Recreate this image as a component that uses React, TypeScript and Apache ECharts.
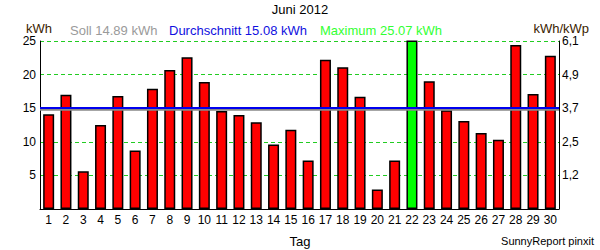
import React, { useEffect, useRef } from "react";
import * as echarts from "echarts";

const days = ["1","2","3","4","5","6","7","8","9","10","11","12","13","14","15","16","17","18","19","20","21","22","23","24","25","26","27","28","29","30"];
const energy = [14.1, 17.0, 5.6, 12.5, 16.8, 8.7, 17.9, 20.7, 22.6, 18.9, 14.6, 14.0, 12.9, 9.6, 11.8, 7.2, 22.2, 21.1, 16.7, 2.9, 7.2, 25.07, 19.0, 14.7, 13.1, 11.3, 10.3, 24.4, 17.1, 22.8];
const maxDayIndex = 21;
const sollValue = 14.89;
const avgValue = 15.08;
const leftTicks = ["", "5", "10", "15", "20", "25"];
const rightTicks = ["", "1,2", "2,5", "3,7", "4,9", "6,1"];
const headerTexts = {
  title: "Juni 2012",
  leftUnit: "kWh",
  soll: "Soll 14.89 kWh",
  avg: "Durchschnitt 15.08 kWh",
  max: "Maximum 25.07 kWh",
  rightUnit: "kWh/kWp",
  xName: "Tag",
  credit: "SunnyReport pinxit",
};

const FONT = "'Liberation Sans', Arial, sans-serif";

export default function App() {
  const ref = useRef<HTMLDivElement>(null);
  useEffect(() => {
    document.body.style.margin = "0";
    const chart = echarts.init(ref.current!, null, { renderer: "svg" });
    const txt = (text: string, x: number, y: number, color: string, size: number, align = "left") => ({
      type: "text",
      x,
      y,
      style: { text, fill: color, font: `${size}px ${FONT}`, textAlign: align, textVerticalAlign: "middle" },
      silent: true,
    });
    chart.setOption({
      animation: false,
      backgroundColor: "#ffffff",
      textStyle: { fontFamily: FONT },
      grid: { left: 40, right: 41, top: 41, bottom: 41, containLabel: false },
      xAxis: {
        type: "category",
        data: days,
        axisLine: { show: true, lineStyle: { color: "#000", width: 1 } },
        axisTick: { show: false },
        axisLabel: { color: "#000", fontSize: 12, fontFamily: FONT, margin: 5, interval: 0 },
      },
      yAxis: [
        {
          type: "value",
          min: 0,
          max: 25,
          interval: 5,
          axisLine: { show: true, lineStyle: { color: "#000", width: 1 } },
          axisTick: { show: false },
          axisLabel: {
            color: "#000",
            fontSize: 12,
            fontFamily: FONT,
            margin: 4,
            padding: [4, 0, 0, 0],
            formatter: (v: number) => leftTicks[Math.round(v / 5)] ?? "",
          },
          splitLine: { show: true, lineStyle: { color: "#22cc22", type: [4, 3], width: 1 } },
        },
        {
          type: "value",
          min: 0,
          max: 25,
          interval: 5,
          position: "right",
          axisLine: { show: true, lineStyle: { color: "#000", width: 1 } },
          axisTick: { show: false },
          axisLabel: {
            color: "#000",
            fontSize: 12,
            fontFamily: FONT,
            margin: 3,
            padding: [4, 0, 0, 0],
            formatter: (v: number) => rightTicks[Math.round(v / 5)] ?? "",
          },
          splitLine: { show: false },
        },
      ],
      series: [
        {
          type: "bar",
          data: energy.map((v, i) => ({
            value: v,
            itemStyle: { color: i === maxDayIndex ? "#00ff00" : "#ff0000" },
          })),
          barWidth: 11,
          itemStyle: { borderColor: "#000", borderWidth: 1.5 },
          markLine: {
            silent: true,
            symbol: "none",
            label: { show: false },
            data: [
              { yAxis: sollValue, lineStyle: { color: "#888888", width: 2.5, type: "solid" } },
              { yAxis: avgValue, lineStyle: { color: "#0000ee", width: 2, type: "solid" } },
            ],
          },
        },
      ],
      graphic: [
        txt(headerTexts.title, 300, 9, "#000", 13, "center"),
        txt(headerTexts.leftUnit, 26, 28, "#3a1c00", 13),
        txt(headerTexts.soll, 70, 30, "#9a9a9a", 13),
        txt(headerTexts.avg, 169, 30, "#1010e0", 13),
        txt(headerTexts.max, 320, 30, "#33ff33", 13),
        txt(headerTexts.rightUnit, 589, 28, "#3a1c00", 13, "right"),
        txt(headerTexts.xName, 300, 241, "#000", 13, "center"),
        txt(headerTexts.credit, 594, 241, "#000", 11, "right"),
      ],
    });
    return () => chart.dispose();
  }, []);
  return <div ref={ref} style={{ width: 600, height: 250 }} />;
}
